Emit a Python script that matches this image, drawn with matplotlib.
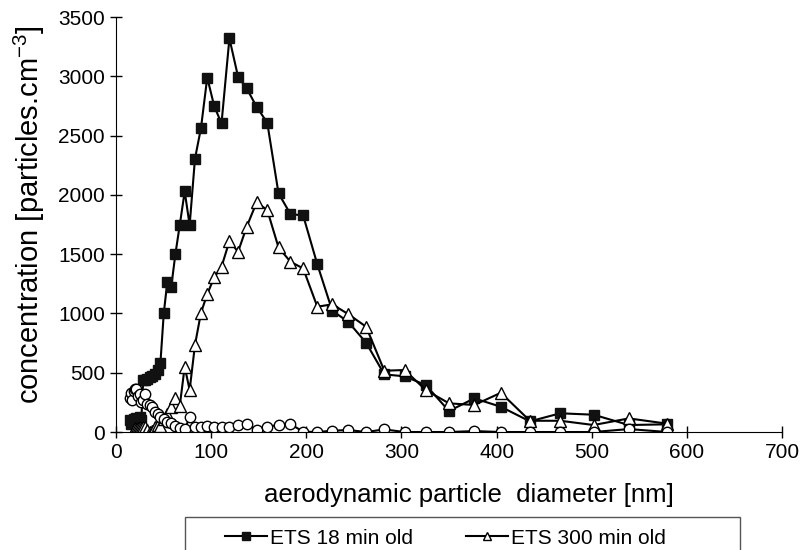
import numpy as np
import matplotlib
matplotlib.use("Agg")
from matplotlib import pyplot as plt
from matplotlib.patches import Rectangle

plt.rcParams['font.family'] = ['Liberation Sans', 'DejaVu Sans']
plt.rcParams['mathtext.fontset'] = 'custom'
plt.rcParams['mathtext.rm'] = 'Liberation Sans'
plt.rcParams['mathtext.it'] = 'Liberation Sans'
plt.rcParams['axes.unicode_minus'] = False

# SMPS channel diameters [nm]
diameter = [15.0, 16.1, 17.3, 18.6, 20.0, 21.5, 23.1, 24.8, 26.6, 28.6,
            30.7, 33.0, 35.5, 38.1, 40.9, 43.9, 46.7, 50.2, 53.9, 58.0,
            62.4, 67.0, 72.2, 77.4, 83.0, 89.3, 95.9, 103.2, 110.9, 119.2,
            128.3, 137.4, 147.8, 159.0, 170.8, 183.4, 196.7, 211.6, 227.3, 244.0,
            262.9, 282.0, 303.3, 325.6, 350.0, 376.6, 404.5, 435.0, 467.0, 502.0,
            539.0, 579.5]

ets_18 = [100, 70, 90, 110, 80, 120, 90, 130, 100, 440,
          440, 445, 460, 470, 490, 520, 585, 1000, 1265, 1220,
          1500, 1745, 2030, 1745, 2305, 2563, 2990, 2749, 2603, 3320,
          2996, 2898, 2743, 2608, 2013, 1838, 1827, 1414, 1023, 930,
          753, 486, 470, 396, 177, 284, 213, 90, 158, 146,
          59, 65]

ets_300 = [np.nan, np.nan, np.nan, 15, 30, 25, 35, 40, 30, 45,
           40, 20, 0, 10, 40, 59, 51, 110, 150, 208,
           289, 219, 551, 354, 734, 1006, 1163, 1304, 1394, 1610,
           1520, 1732, 1937, 1872, 1557, 1436, 1380, 1057, 1077, 995,
           888, 517, 523, 354, 242, 228, 331, 95, 95, 59,
           115, 70]

ets_circ = [290, 330, 270, 350, 360, 365, 300, 320, 250, 270,
            320, 240, 228, 213, 170, 150, 129, 107, 87, 73,
            51, 31, 22, 124, 40, 40, 51, 40, 45, 45,
            59, 67, 17, 45, 59, 67, 3, 0, 11, 17,
            0, 22, 0, 0, 0, 8, 0, 0, 0, 0,
            25, 0]

fig = plt.figure(figsize=(8, 5.5), dpi=100)
ax = fig.add_axes([0.145, 0.2145, 0.8325, 0.7545])

ax.plot(diameter, ets_18, color='black', lw=1.5, marker='s', ms=7.5,
        mfc='#111111', mec='#111111', label='ETS 18 min old')
ax.plot(diameter, ets_300, color='black', lw=1.5, marker='^', ms=8,
        mfc='white', mec='black', mew=1.0, label='ETS 300 min old')
ax.plot(diameter, ets_circ, color='black', lw=1.5, marker='o', ms=7.5,
        mfc='white', mec='black', mew=1.0, label='_nolegend_')

ax.set_xlim(0, 700)
ax.set_ylim(0, 3500)
ax.set_xticks(range(0, 701, 100))
ax.set_yticks(range(0, 3501, 500))
ax.spines['top'].set_visible(False)
ax.spines['right'].set_visible(False)
ax.tick_params(direction='inout', length=8, width=1, labelsize=15, pad=4)
ax.set_xlabel('aerodynamic particle  diameter [nm]', fontsize=18.5)
ax.xaxis.set_label_coords(0.53, -0.122)
ax.set_ylabel('concentration [particles.cm$^{-3}$]', fontsize=21)
ax.yaxis.set_label_coords(-0.103, 0.523)

# legend box, cut by the bottom edge of the picture
fig.patches.append(Rectangle((185 / 800, -0.05), 555 / 800, 0.05 + 33 / 550,
                             transform=fig.transFigure, fill=False,
                             edgecolor='#555555', lw=1))
fig.legend(loc='center left', bbox_to_anchor=(225 / 800, 12 / 550),
           ncol=2, frameon=False, fontsize=15, handlelength=2.0,
           handletextpad=0.15, columnspacing=2.55, borderpad=0,
           borderaxespad=0, markerscale=0.8)

fig.savefig('out.png', dpi=100)
